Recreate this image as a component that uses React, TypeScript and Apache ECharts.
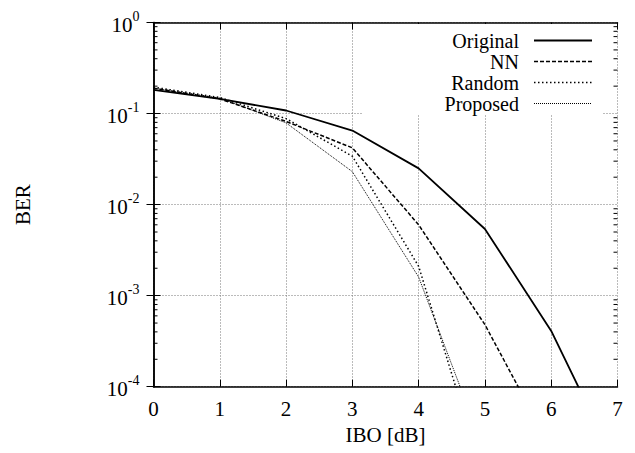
import React, { useEffect, useRef } from "react";
import * as echarts from "echarts";

const ibo = [0, 1, 2, 3, 4, 5, 6, 7];
const originalBER = [0.182, 0.145, 0.108, 0.065, 0.025, 0.0054, 0.00041, 1.3e-5];
const nnBER = [0.19, 0.145, 0.082, 0.042, 0.006, 0.00048, 2.1e-5];
const randomBER = [0.195, 0.15, 0.088, 0.034, 0.0021, 9e-6];
const proposedBER = [0.19, 0.148, 0.079, 0.023, 0.0016, 1.9e-5];
const seriesNames = ["Original", "NN", "Random", "Proposed"];
const minorTickValues: number[] = [];
for (let e = -4; e < 0; e++) {
  for (let m = 2; m <= 9; m++) minorTickValues.push(m * Math.pow(10, e));
}

const FONT = "'Liberation Serif', 'Times New Roman', 'DejaVu Serif', serif";

const styles = [
  { width: 1.8, type: "solid" as any },
  { width: 1.5, type: [4, 2] as any },
  { width: 1.5, type: [1.5, 2.5] as any },
  { width: 1, type: [1, 1] as any },
];

export default function App() {
  const ref = useRef<HTMLDivElement>(null);
  useEffect(() => {
    if (!ref.current) return;
    const chart = echarts.init(ref.current, undefined, { renderer: "svg" });
    const datasets = [originalBER, nnBER, randomBER, proposedBER];
    const lineSeries = datasets.map((d, i) => ({
      type: "line",
      name: seriesNames[i],
      data: d.map((v, j) => [ibo[j], v]),
      symbol: "none",
      clip: true,
      lineStyle: { color: "#000", width: styles[i].width, type: styles[i].type },
      silent: true,
      z: 3,
    }));
    const legendRows = seriesNames.map((n, i) => {
      const y = 40.5 + i * 21;
      return [
        {
          type: "text",
          x: 519,
          y,
          style: {
            text: n,
            fontFamily: FONT,
            fontSize: 20,
            lineHeight: 20,
            fill: "#000",
            align: "right",
            verticalAlign: "middle",
          },
          z: 20,
        },
        {
          type: "line",
          shape: { x1: 534, y1: y, x2: 592, y2: y },
          style: { stroke: "#000", lineWidth: styles[i].width, lineDash: styles[i].type === "solid" ? null : styles[i].type },
          z: 20,
        },
      ];
    }).flat();

    chart.setOption({
      animation: false,
      backgroundColor: "#fff",
      grid: { left: 153.5, right: 17.5, top: 22.5, bottom: 66.3, containLabel: false },
      xAxis: [
        {
          type: "value",
          min: 0,
          max: 7,
          interval: 1,
          position: "bottom",
          name: "IBO [dB]",
          nameLocation: "middle",
          nameGap: 34,
          nameTextStyle: { fontFamily: FONT, fontSize: 21, color: "#000" },
          axisLine: { show: true, lineStyle: { color: "#000", width: 1.5 } },
          axisTick: { show: true, inside: true, length: 7, lineStyle: { color: "#000", width: 1 } },
          axisLabel: { fontFamily: FONT, fontSize: 21, color: "#000", margin: 12 },
          splitLine: { show: true, lineStyle: { color: "#777", type: [1, 2], width: 1 } },
        },
        {
          type: "value",
          min: 0,
          max: 7,
          interval: 1,
          position: "top",
          axisLine: { show: true, lineStyle: { color: "#000", width: 1.5 } },
          axisTick: { show: true, inside: true, length: 7, lineStyle: { color: "#000", width: 1 } },
          axisLabel: { show: false },
          splitLine: { show: false },
        },
      ],
      yAxis: [
        {
          type: "log",
          logBase: 10,
          min: 1e-4,
          max: 1,
          interval: 1,
          position: "left",
          name: "BER",
          nameLocation: "middle",
          nameRotate: 90,
          nameGap: 120,
          nameTextStyle: { fontFamily: FONT, fontSize: 21, color: "#000" },
          axisLine: { show: true, lineStyle: { color: "#000", width: 1.5 } },
          axisTick: { show: true, inside: true, length: 7, lineStyle: { color: "#000", width: 1 } },
          axisLabel: {
            margin: 14,
            formatter: (v: number) => `{a|10}{b|${Math.round(Math.log10(v))}}`,
            rich: {
              a: { fontFamily: FONT, fontSize: 21, color: "#000", lineHeight: 26, verticalAlign: "bottom" },
              b: { fontFamily: FONT, fontSize: 14, color: "#000", lineHeight: 14, verticalAlign: "top" },
            },
          },
          splitLine: { show: true, lineStyle: { color: "#777", type: [1, 2], width: 1 } },
        },
        {
          type: "log",
          logBase: 10,
          min: 1e-4,
          max: 1,
          interval: 1,
          position: "right",
          axisLine: { show: true, lineStyle: { color: "#000", width: 1.5 } },
          axisTick: { show: true, inside: true, length: 7, lineStyle: { color: "#000", width: 1 } },
          axisLabel: { show: false },
          splitLine: { show: false },
        },
      ],
      graphic: [
        {
          type: "rect",
          shape: { x: 363, y: 24, width: 240, height: 91 },
          style: { fill: "#fff" },
          z: 10,
        },
        ...legendRows,
      ],
      series: [
        ...lineSeries,
        {
          type: "custom",
          silent: true,
          clip: false,
          data: minorTickValues.map((v) => [0, v]),
          encode: { x: 0, y: 1 },
          renderItem: (params: any, api: any) => {
            const v = api.value(1);
            const pl = api.coord([0, v]);
            const pr = api.coord([7, v]);
            return {
              type: "group",
              children: [
                { type: "line", shape: { x1: pl[0], y1: pl[1], x2: pl[0] + 4, y2: pl[1] }, style: { stroke: "#000", lineWidth: 1 } },
                { type: "line", shape: { x1: pr[0], y1: pr[1], x2: pr[0] - 4, y2: pr[1] }, style: { stroke: "#000", lineWidth: 1 } },
              ],
            };
          },
          z: 4,
        },
      ],
    });
    return () => chart.dispose();
  }, []);
  return <div ref={ref} style={{ width: 635, height: 453, position: "absolute", left: 0, top: 0 }} />;
}
